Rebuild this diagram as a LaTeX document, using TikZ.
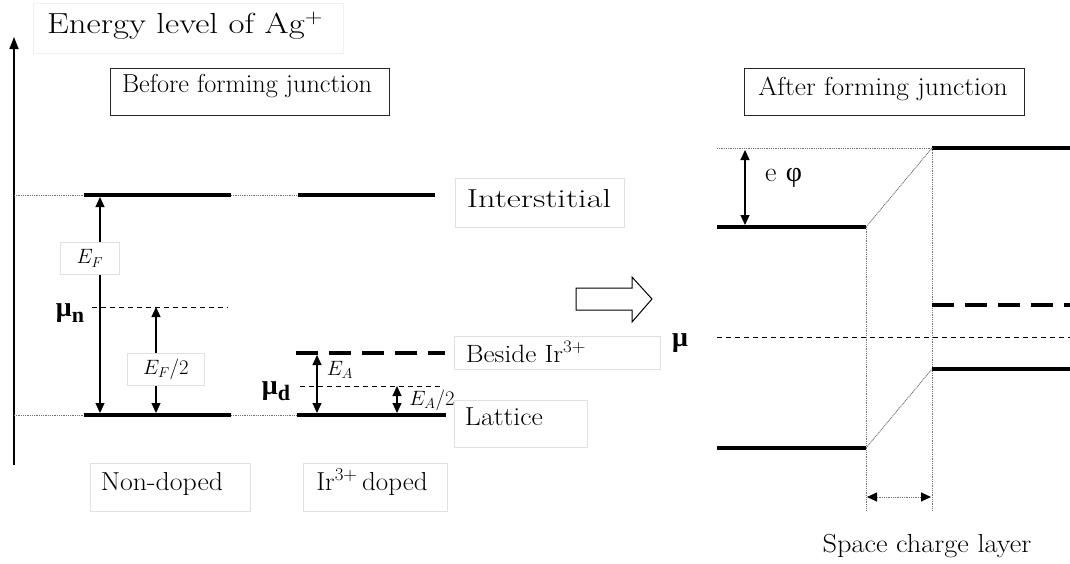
\documentclass[tikz,border=0pt]{standalone}
\usepackage{fontspec}
\usepackage{graphicx}
\newfontfamily\grk{Liberation Serif}
\usetikzlibrary{arrows.meta}
\newcommand\fsz[1]{\fontsize{#1}{#1}\selectfont}
\newcommand\hstretch[2]{\scalebox{#1}[1]{#2}}
\tikzset{
  lvl/.style={line width=4pt},
  guide/.style={draw=black!55, line width=0.9pt, dash pattern=on 1pt off 0.8pt},
  mudash/.style={line width=1pt, dash pattern=on 5pt off 4pt},
  lvldash/.style={line width=3.5pt, dash pattern=on 22pt off 11pt},
  dim/.style={line width=1.2pt, {Triangle[length=10pt,width=9pt]}-{Triangle[length=10pt,width=9pt]}},
  dimdot/.style={guide, {Triangle[length=10pt,width=9pt,color=black]}-{Triangle[length=10pt,width=9pt,color=black]}},
  lbox/.style={draw=black!12, line width=0.8pt, inner sep=0, anchor=north west},
  tbox/.style={draw=black!85, line width=1.2pt, inner sep=0, anchor=north west},
  txt/.style={anchor=base, inner sep=0, font=\fsz{26}},
  mub/.style={inner sep=0, font=\grk\bfseries\fsz{28}},
}
\begin{document}
\begin{tikzpicture}[x=1pt,y=-1pt]
\useasboundingbox[fill=white] (0,0) rectangle (1070,563);

% axis
\coordinate (axB) at (14,465);
\coordinate (axT) at (14,37);
\draw[line width=1.5pt, -{Triangle[length=12pt,width=9pt]}] (axB) -- (axT);

% title boxes
\node[lbox, draw=black!6, minimum width=310pt, minimum height=50pt] (bxEn) at (33,3) {};
\node[txt, font=\fsz{29}] (tEn) at (185,33) {\hstretch{1.2}{Energy level of Ag\textsuperscript{+}}};
\node[tbox, minimum width=279pt, minimum height=47pt] (bxBefore) at (110,68) {};
\node[txt] (tBefore) at (247,92) {\hstretch{1.01}{Before forming junction}};
\node[tbox, minimum width=280pt, minimum height=47pt] (bxAfter) at (744,68) {};
\node[txt] (tAfter) at (883,95) {\hstretch{1.06}{After forming junction}};

% ---------- left part ----------
% interstitial level
\draw[guide] (axB |- 0,195) -- (84,195);
\draw[lvl] (84,195) -- (231,195);
\draw[guide] (231,195) -- (298,195);
\draw[lvl] (298,195) -- (435,195);
% lattice level
\draw[guide] (axB |- 0,415) -- (84,415);
\draw[lvl] (84,415) -- (231,415);
\draw[guide] (231,415) -- (297,415);
\draw[lvl] (297,415) -- (446,415);
% mu_n
\draw[mudash] (92,307) -- (228,307);
\node[mub] (mun) at (70,313) {μ\raisebox{-0.2em}{\fsz{22}n}};
% E_F arrows
\coordinate (efT) at (100,197);
\coordinate (efB) at (100,413);
\draw[dim] (efT) -- (efB);
\coordinate (ef2T) at (156,307);
\coordinate (ef2B) at (156,413);
\draw[dim] (ef2T) -- (ef2B);
\node[lbox, fill=white, minimum width=59pt, minimum height=32pt] (bxEF) at (60,242) {};
\node[inner sep=0, font=\fsz{21}] (tEF) at (bxEF.center) {$E_{F}$};
\node[lbox, fill=white, minimum width=77pt, minimum height=32pt] (bxEF2) at (127,353) {};
\node[inner sep=0, font=\fsz{21}] (tEF2) at (bxEF2.center) {$E_{F}/2$};

% doped: beside Ir
\draw[lvldash] (296,353) -- (445,353);
\draw[mudash] (300,386) -- (443,386);
\node[mub] (mud) at (276,391) {μ\raisebox{-0.2em}{\fsz{22}d}};
\coordinate (eaT) at (317,355);
\coordinate (eaB) at (317,413);
\draw[dim] (eaT) -- (eaB);
\node[inner sep=0, font=\fsz{21}] (tEA) at (340,370) {$E_{A}$};
\coordinate (ea2T) at (397,386);
\coordinate (ea2B) at (397,413);
\draw[dim] (ea2T) -- (ea2B);
\node[inner sep=0, font=\fsz{21}] (tEA2) at (432,400) {$E_{A}/2$};

% label boxes
\node[lbox, minimum width=169pt, minimum height=49pt] (bxInter) at (455,178) {};
\node[txt] (tInter) at (539,207) {\hstretch{1.32}{Interstitial}};
\node[lbox, minimum width=206pt, minimum height=33pt] (bxBeside) at (454,336) {};
\node[txt, font=\fsz{25}] (tBeside) at (526,362) {\hstretch{1.09}{Beside Ir\textsuperscript{3+}}};
\node[lbox, minimum width=133pt, minimum height=47pt] (bxLat) at (454,400) {};
\node[txt] (tLat) at (504,425) {\hstretch{1.07}{Lattice}};
\node[lbox, minimum width=160pt, minimum height=48pt] (bxNon) at (90,463) {};
\node[txt] (tNon) at (162,490) {\hstretch{1.07}{Non-doped}};
\node[lbox, minimum width=144pt, minimum height=48pt] (bxIr) at (303,463) {};
\node[txt] (tIr) at (372,490) {\hstretch{1.04}{Ir\textsuperscript{3+}\,doped}};

% hollow arrow
\draw[line width=1pt, fill=white] (576,288) -- (632,288) -- (632,277) -- (652,299) -- (632,322) -- (632,310) -- (576,310) -- cycle;

% ---------- right part ----------
\coordinate (jL) at (866,227);
\coordinate (jR) at (932,148);
\coordinate (kL) at (866,448);
\coordinate (kR) at (932,369);
\draw[guide] (717,148) -- (jR);
\draw[lvl] (jR) -- (1070,148);
\draw[lvl] (717,227) -- (jL);
\draw[guide] (jL) -- (jR);
\draw[guide] (jL) -- (866,511);
\draw[guide] (jR) -- (932,511);
\draw[lvldash] (932,305) -- (1070,305);
\draw[mudash] (717,337) -- (1070,337);
\draw[lvl] (kR) -- (1070,369);
\draw[lvl] (717,448) -- (kL);
\draw[guide] (kL) -- (kR);
\coordinate (scL) at (867,497);
\coordinate (scR) at (931,497);
\draw[dimdot] (scL) -- (scR);
\coordinate (phT) at (745,150);
\coordinate (phB) at (745,225);
\draw[dim] (phT) -- (phB);
\node[anchor=west, inner sep=0, font=\fsz{28}] (tphi) at (765,178) {e\,\,{\grk φ}};
\node[mub] (mu) at (680,343) {μ};
\node[txt] (tSC) at (927,552) {\hstretch{1.09}{Space charge layer}};
\end{tikzpicture}
\end{document}
